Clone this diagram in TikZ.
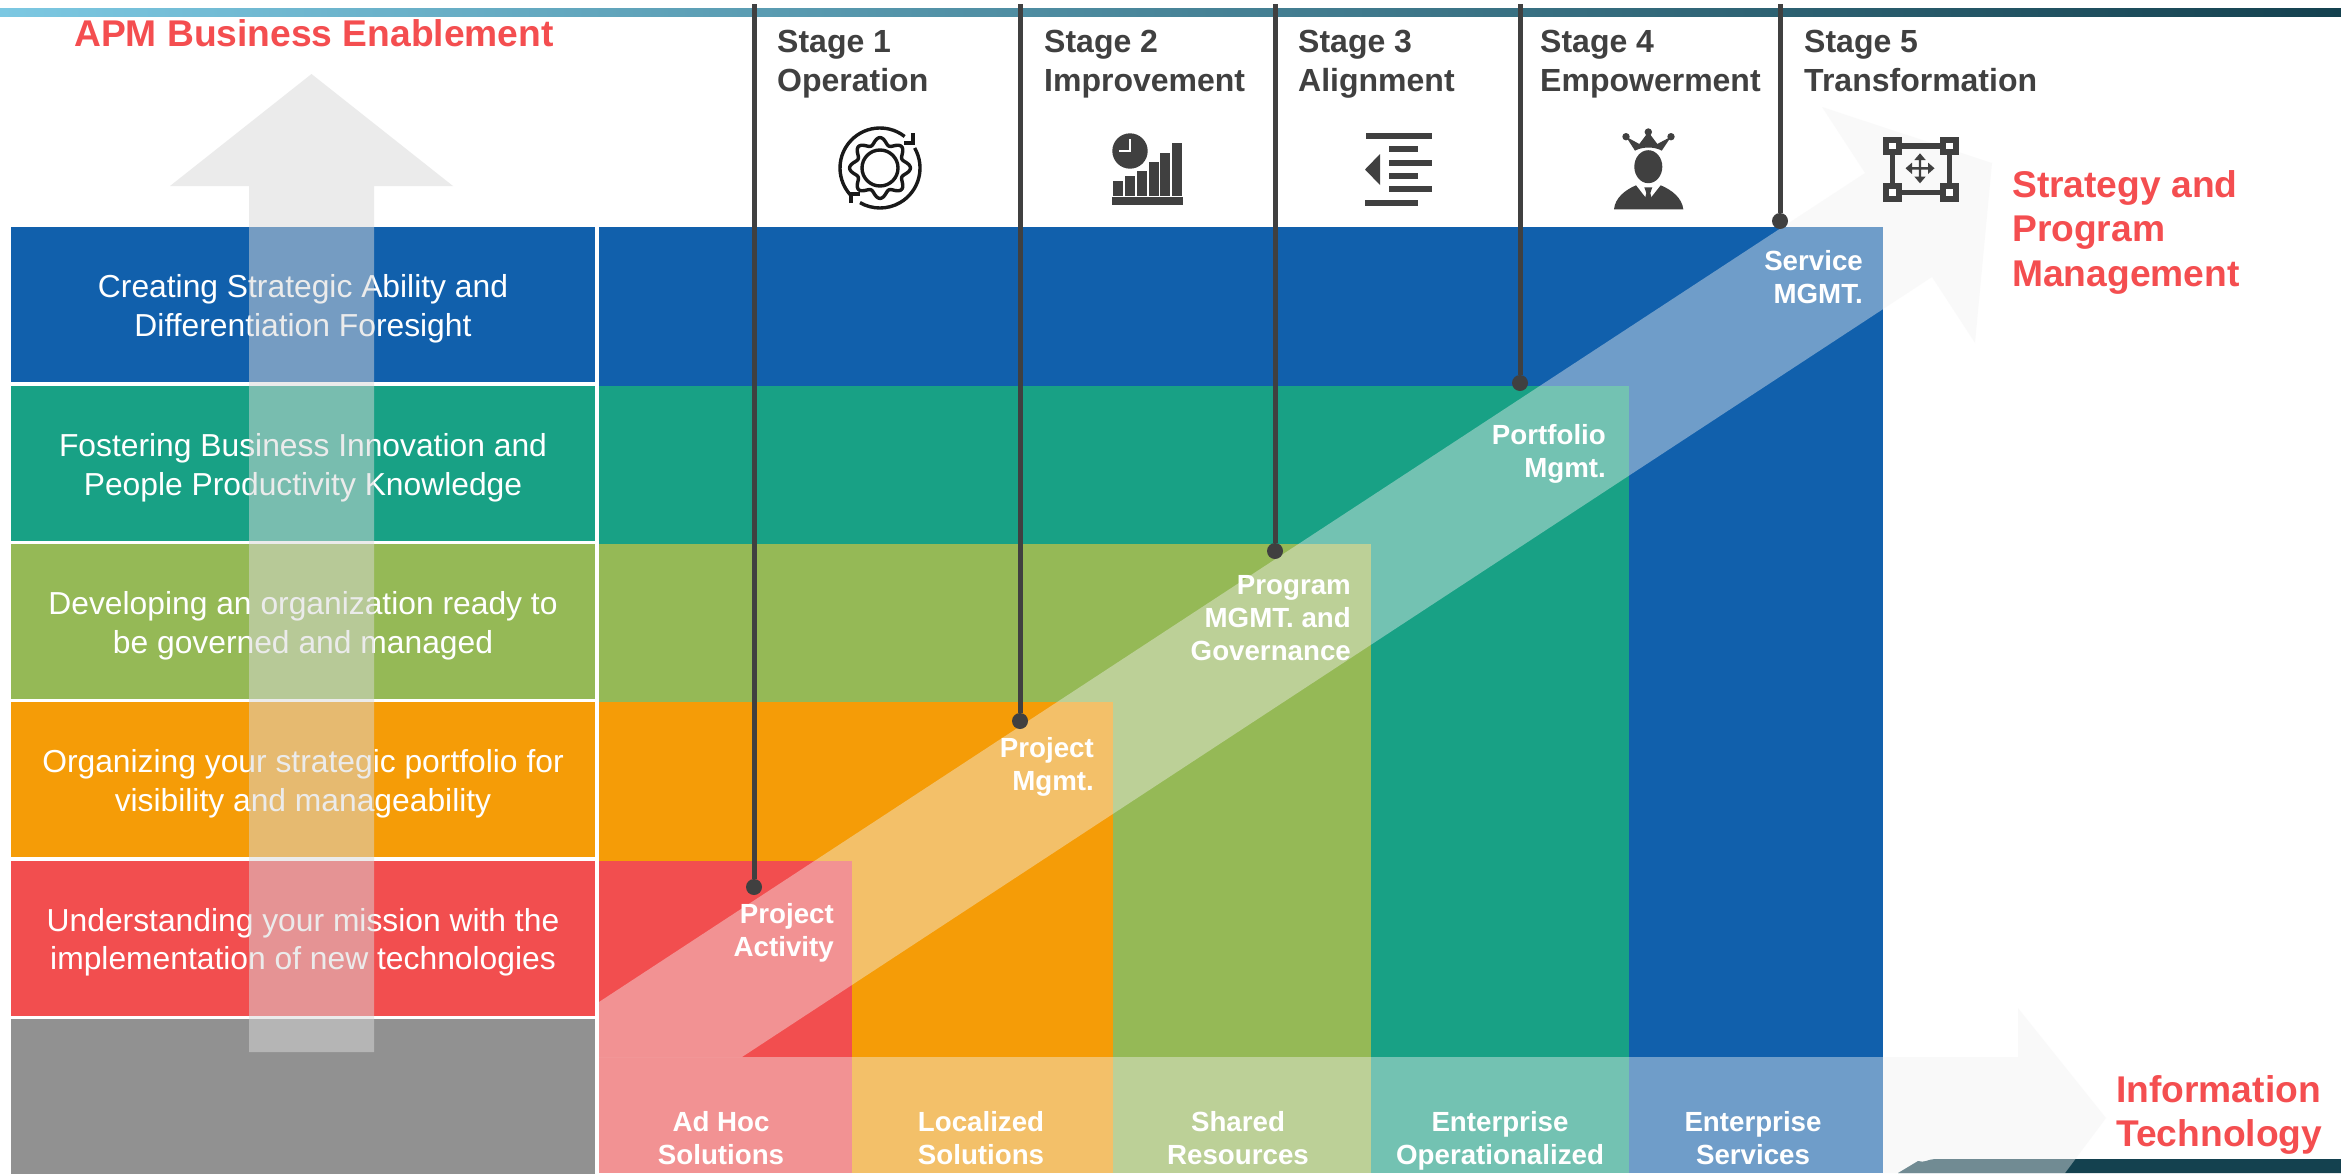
\documentclass[tikz,border=0pt]{standalone}
\usepackage{fontspec}
\setmainfont{Liberation Sans}
\definecolor{bandblue}{HTML}{1160AC}
\definecolor{bandgreen}{HTML}{18A185}
\definecolor{bandolive}{HTML}{95B956}
\definecolor{bandorange}{HTML}{F59C07}
\definecolor{bandred}{HTML}{F24E4F}
\definecolor{bandgrey}{HTML}{919191}
\definecolor{headred}{HTML}{F44E50}
\definecolor{darktext}{HTML}{404040}
\definecolor{barteal}{HTML}{14414F}
\definecolor{barlight}{HTML}{7CC8E2}
\definecolor{barmid}{HTML}{3A6B7E}

\begin{document}
\begin{tikzpicture}[x=1pt,y=-1pt,
			band/.style = {rectangle,inner sep=0pt,minimum width=584pt,minimum height=155pt},
			bandtext/.style = {inner sep=0pt,yshift=-4.5pt,text=white,align=center,font=\fontsize{31.8}{38.5}\selectfont},
			stagehead/.style = {anchor=north west,inner sep=0pt,align=left,text=darktext,font=\bfseries\fontsize{32}{39}\selectfont},
			redhead/.style = {anchor=west,inner sep=0pt,align=left,text=headred,font=\bfseries\fontsize{37.2}{44.5}\selectfont},
			steplabel/.style = {anchor=east,inner sep=0pt,align=right,text=white,font=\bfseries\fontsize{27.7}{33}\selectfont},
			footlabel/.style = {inner sep=0pt,align=center,text=white,font=\bfseries\fontsize{27.7}{33}\selectfont},
			stagedot/.style = {circle,fill=darktext,inner sep=0pt,minimum size=16pt},
			stageline/.style = {draw=darktext,line width=5pt},
			paleflow/.style = {fill=black!5,fill opacity=.42},
			greyflow/.style = {fill=black!15,fill opacity=.5},
			icon/.style = {fill=darktext},
			gearline/.style = {draw=black!90,line width=3.4pt}]

\useasboundingbox (0,0) rectangle (2341,1173);
\fill[white] (0,0) rectangle (2341,1173);

\shade[left color=barlight, middle color=barmid, right color=barteal] (0,8) rectangle (2341,16);
\fill[barteal] (1898,1173) -- (1918,1161) to[out=-20,in=180] (1935,1159) -- (2341,1159) -- (2341,1173) -- cycle;

\fill[bandblue] (599,227) rectangle (1883,1173);
\fill[bandgreen] (599,386) rectangle (1629,1173);
\fill[bandolive] (599,544) rectangle (1371,1173);
\fill[bandorange] (599,702) rectangle (1113,1173);
\fill[bandred] (599,861) rectangle (852,1173);

\node[band,fill=bandblue] (ability) at (303,304.5) {};
\node[band,fill=bandgreen] (innovation) at (303,463.5) {};
\node[band,fill=bandolive] (governed) at (303,621.5) {};
\node[band,fill=bandorange] (portfolio) at (303,779.5) {};
\node[band,fill=bandred] (mission) at (303,938) {};
\node[band,fill=bandgrey] (blank) at (303,1096.5) {};

\node[bandtext] (abilitytext) at (ability) {Creating Strategic Ability and\\Differentiation Foresight};
\node[bandtext] (innovationtext) at (innovation) {Fostering Business Innovation and\\People Productivity Knowledge};
\node[bandtext] (governedtext) at (governed) {Developing an organization ready to\\be governed and managed};
\node[bandtext] (portfoliotext) at (portfolio) {Organizing your strategic portfolio for\\visibility and manageability};
\node[bandtext] (missiontext) at (mission) {Understanding your mission with the\\implementation of new technologies};

\fill[greyflow] (311.5,74) -- (453,186) -- (374,186) -- (374,1052) -- (249,1052) -- (249,186) -- (170,186) -- cycle;
\fill[paleflow] (599,1057) -- (2018,1057) -- (2018,1008) -- (2106,1118) -- (2065,1173) -- (599,1173) -- cycle;
\fill[paleflow] (599,1002) -- (1865,173) -- (1822,107) -- (1992,163) -- (1975,343) -- (1932,277) -- (742,1057) -- (599,1057) -- cycle;

\coordinate (topone) at (754,4);
\coordinate (toptwo) at (1020,4);
\coordinate (topthree) at (1275,4);
\coordinate (topfour) at (1520,4);
\coordinate (topfive) at (1780,4);
\node[stagedot] (dotone) at (754,887) {};
\node[stagedot] (dottwo) at (1020,721) {};
\node[stagedot] (dotthree) at (1275,551) {};
\node[stagedot] (dotfour) at (1520,383) {};
\node[stagedot] (dotfive) at (1780,221) {};
\draw[stageline] (topone) -- (dotone);
\draw[stageline] (toptwo) -- (dottwo);
\draw[stageline] (topthree) -- (dotthree);
\draw[stageline] (topfour) -- (dotfour);
\draw[stageline] (topfive) -- (dotfive);

\node[stagehead] (stageone) at (777,29.5) {Stage 1\\Operation};
\node[stagehead] (stagetwo) at (1044,29.5) {Stage 2\\Improvement};
\node[stagehead] (stagethree) at (1298,29.5) {Stage 3\\Alignment};
\node[stagehead] (stagefour) at (1540,29.5) {Stage 4\\Empowerment};
\node[stagehead] (stagefive) at (1804,29.5) {Stage 5\\Transformation};

\node[redhead] (apm) at (74,33) {APM Business Enablement};
\node[redhead] (strategy) at (2012,232) {Strategy and\\Program\\Management};
\node[redhead] (infotech) at (2116,1115) {Information\\Technology};

\node[steplabel] (activity) at (834,933) {Project\\Activity};
\node[steplabel] (project) at (1094,767) {Project\\Mgmt.};
\node[steplabel] (program) at (1351,618) {Program\\MGMT. and\\Governance};
\node[steplabel] (folio) at (1606,453.5) {Portfolio\\Mgmt.};
\node[steplabel] (service) at (1863,277) {Service\\MGMT.};

\node[footlabel] (adhoc) at (721,1138) {Ad Hoc\\Solutions};
\node[footlabel] (localized) at (981,1138) {Localized\\Solutions};
\node[footlabel] (shared) at (1238,1138) {Shared\\Resources};
\node[footlabel] (operational) at (1500,1141) {Enterprise\\Operationalized};
\node[footlabel] (services) at (1753,1138) {Enterprise\\Services};

\draw[gearline] (880,168) ++(-52:40) arc[start angle=-52,end angle=-222,radius=40];
\draw[gearline] (880,168) ++(-30:40) arc[start angle=-30,end angle=120,radius=40];
\draw[gearline] (913,133) -- (913,143) -- (904,143);
\draw[gearline] (851,203) -- (851,194) -- (860,194);
\draw[gearline] plot[domain=0:360,samples=145] ({880+(27+3.4*cos(8*\x))*cos(\x)},{168+(27+3.4*cos(8*\x))*sin(\x)}) -- cycle;
\draw[gearline] (880,168) circle[radius=18];

\fill[icon] (1130,151) circle[radius=17.7];
\draw[white,line width=1.8pt] (1130,139) -- (1130,152) (1130,151) -- (1119,151);
\fill[icon] (1113,181) rectangle (1123,196);
\fill[icon] (1125,176) rectangle (1135,196);
\fill[icon] (1137,171) rectangle (1147,196);
\fill[icon] (1149,162) rectangle (1159,196);
\fill[icon] (1160.3,153) rectangle (1170,196);
\fill[icon] (1172,143) rectangle (1181.7,196);
\fill[icon] (1112,197) rectangle (1183,205);

\fill[icon] (1366,133) rectangle (1432,139);
\fill[icon] (1389,146) rectangle (1418,152);
\fill[icon] (1389,160) rectangle (1432,166);
\fill[icon] (1389,173) rectangle (1418,179);
\fill[icon] (1389,186) rectangle (1432,192);
\fill[icon] (1365,200) rectangle (1418,206);
\fill[icon] (1380,154) -- (1380,185) -- (1365,169.5) -- cycle;

\fill[icon] (1648.3,166.7) ellipse[x radius=14,y radius=16.5];
\fill[icon] (1626,136.7) circle[radius=3.7];
\fill[icon] (1648.3,132) circle[radius=3.7];
\fill[icon] (1671,136.7) circle[radius=3.7];
\fill[icon] (1626,136.7) -- (1639.3,144) -- (1648.3,132) -- (1657.3,144) -- (1671,136.7) -- (1661.7,150.7) .. controls (1655,146.5) and (1642,146.5) .. (1635,150.7) -- cycle;
\fill[icon] (1614,209.3) .. controls (1615,198) and (1625,190) .. (1636,185.3) -- (1648.3,201) -- (1660.7,185.3) .. controls (1672,190) and (1682,198) .. (1683.3,209.3) -- cycle;
\fill[icon] (1644.3,187.3) -- (1652.3,187.3) -- (1650.3,193) -- (1652,199.5) -- (1648.3,203) -- (1644.7,199.5) -- (1646.3,193) -- cycle;

\draw[darktext,line width=5.5pt] (1892.7,146.2) rectangle (1949.3,192.5);
\fill[icon] (1883.3,136.7) rectangle (1902,155);
\fill[icon] (1940,136.7) rectangle (1958.7,155);
\fill[icon] (1883.3,183.3) rectangle (1902,201.7);
\fill[icon] (1940,183.3) rectangle (1958.7,201.7);
\fill[white] (1889,142.7) rectangle (1895.7,149.3);
\fill[white] (1946,142.7) rectangle (1952.7,149.3);
\fill[white] (1889,189.3) rectangle (1895.7,196);
\fill[white] (1946,189.3) rectangle (1952.7,196);
\fill[icon] (1920,153.3) -- (1925.7,160) -- (1921.2,160) -- (1921.2,167.1) -- (1928,167.1) -- (1928,162.6) -- (1934.5,168.3) -- (1928,174) -- (1928,169.5) -- (1921.2,169.5) -- (1921.2,176.6) -- (1925.7,176.6) -- (1920,183.3) -- (1914.3,176.6) -- (1918.8,176.6) -- (1918.8,169.5) -- (1912,169.5) -- (1912,174) -- (1905.5,168.3) -- (1912,162.6) -- (1912,167.1) -- (1918.8,167.1) -- (1918.8,160) -- (1914.3,160) -- cycle;

\end{tikzpicture}
\end{document}
